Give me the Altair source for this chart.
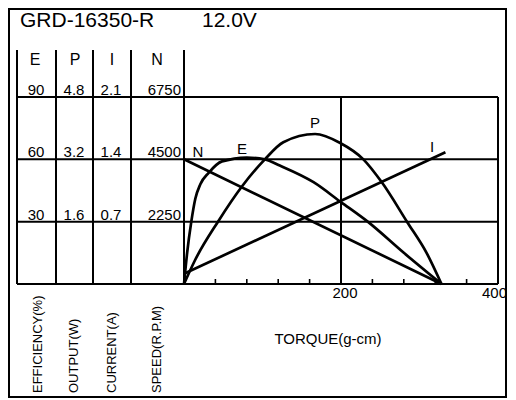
import altair as alt
import pandas as pd

# ---------------- data ----------------
# axis tick labels of the four left-hand scales (top row first)
eff_ticks = [90, 60, 30]          # EFFICIENCY (%)
out_ticks = [4.8, 3.2, 1.6]       # OUTPUT (W)
cur_ticks = [2.1, 1.4, 0.7]       # CURRENT (A)
spd_ticks = [6750, 4500, 2250]    # SPEED (R.P.M)
torque_labels = [200, 400]
torque_minor = [40, 80, 120, 160, 240, 280, 320, 360]

# speed curve N
n_torque = [0, 328]
n_rpm = [4500, 0]
# current curve I
i_torque = [0, 333]
i_amp = [0.115, 1.48]
# efficiency curve E
e_torque = [0, 4, 9.3, 14.4, 20.8, 31.4, 48.4, 80, 103, 122, 165, 200, 234, 280, 328]
e_pct = [0, 15, 30, 41, 48, 53.5, 59, 60.8, 60, 57, 49, 39.4, 30, 15, 0]
# output curve P
p_torque = [0, 14, 43.3, 74, 103, 126.5, 167, 199, 228.5, 252, 284, 309, 328]
p_watt = [0, 0.61, 1.6, 2.51, 3.2, 3.64, 3.85, 3.62, 3.2, 2.61, 1.6, 0.8, 0]

curve_names = ["N", "E", "P", "I"]
label_torque = [17.8, 73.9, 166.9, 316]
label_value = [63.5, 65, 77.5, 65.9]

title_model = "GRD-16350-R"
title_volt = "12.0V"
headers = ["E", "P", "I", "N"]
side_titles = ["EFFICIENCY(%)", "OUTPUT(W)", "CURRENT(A)", "SPEED(R.P.M)"]
x_title = "TORQUE(g-cm)"

# ---------------- layout (pixels, relative to plot area) ----------------
W, H = 314, 187
TOP_Y = -47
COL_LINES = [-167, -128, -91, -53]
HEAD_X = [-149, -109, -72, -27]
TICK_X = [-148, -110, -73, -3]
SIDE_X = [-146.5, -110, -72, -27]
FONT = "Liberation Sans"
LW = 2
CW = 2.7

top_val = eff_ticks[0]
scale_f = {
    "E": top_val / eff_ticks[0],
    "P": top_val / out_ticks[0],
    "I": top_val / cur_ticks[0],
    "N": top_val / spd_ticks[0],
}

rows = []
for name, ts, vs in [("N", n_torque, n_rpm), ("I", i_torque, i_amp),
                     ("E", e_torque, e_pct), ("P", p_torque, p_watt)]:
    for t, v in zip(ts, vs):
        rows.append({"series": name, "t": t, "v": v * scale_f[name]})
curves = pd.DataFrame(rows)

xs = alt.Scale(domain=[0, 400])
ys = alt.Scale(domain=[0, 90])
X = lambda f: alt.X(f, type="quantitative", scale=xs, axis=None)
Y = lambda f: alt.Y(f, type="quantitative", scale=ys, axis=None)

one = pd.DataFrame({"a": [0]})

frame = alt.Chart(one).mark_rect(fillOpacity=0, stroke="black", strokeWidth=2).encode(
    x=alt.value(-175), x2=alt.value(322), y=alt.value(-88), y2=alt.value(300))

hlines = alt.Chart(pd.DataFrame({"v": eff_ticks + [0]})).mark_rule(
    color="black", strokeWidth=LW).encode(
    y=Y("v"), x=alt.value(COL_LINES[0]), x2=alt.value(W))

vlines_plot = alt.Chart(pd.DataFrame({"t": [0]})).mark_rule(
    color="black", strokeWidth=LW).encode(
    x=X("t"), y=alt.value(TOP_Y), y2=alt.value(H))

vlines_grid = alt.Chart(pd.DataFrame({"t": torque_labels})).mark_rule(
    color="black", strokeWidth=LW).encode(
    x=X("t"), y=alt.value(0), y2=alt.value(H))

col_layers = [
    alt.Chart(one).mark_rule(color="black", strokeWidth=LW).encode(
        x=alt.value(cx), y=alt.value(TOP_Y), y2=alt.value(H))
    for cx in COL_LINES
]

minor = alt.Chart(pd.DataFrame({"t": torque_minor})).mark_rule(
    color="black", strokeWidth=1.6).encode(
    x=X("t"), y=alt.value(H - 5), y2=alt.value(H))

tlabel_layers = [
    alt.Chart(pd.DataFrame({"t": [torque_labels[0]]})).mark_text(
        font=FONT, fontSize=15, baseline="alphabetic", color="black", dx=4).encode(
        x=X("t"), y=alt.value(H + 14), text=alt.Text("t:Q")),
    alt.Chart(pd.DataFrame({"t": [torque_labels[1]]})).mark_text(
        font=FONT, fontSize=15, align="right", baseline="alphabetic", color="black",
        dx=9).encode(
        x=X("t"), y=alt.value(H + 14), text=alt.Text("t:Q")),
]

curve_layer = alt.Chart(curves).mark_line(
    color="black", strokeWidth=CW, interpolate="monotone").encode(
    x=X("t"), y=Y("v"), detail="series:N")

clabels = alt.Chart(pd.DataFrame({"name": curve_names, "t": label_torque,
                                  "v": label_value})).mark_text(
    font=FONT, fontSize=15, baseline="middle", color="black").encode(
    x=X("t"), y=Y("v"), text="name:N")

tick_text_layers = []
for ticks, tx, al in [(eff_ticks, TICK_X[0], "center"), (out_ticks, TICK_X[1], "center"),
                      (cur_ticks, TICK_X[2], "center"), (spd_ticks, TICK_X[3], "right")]:
    df = pd.DataFrame({"v": eff_ticks, "lab": [str(k) for k in ticks]})
    tick_text_layers.append(
        alt.Chart(df).mark_text(font=FONT, fontSize=15, align=al, baseline="alphabetic",
                                dy=-2, color="black").encode(
            x=alt.value(tx), y=Y("v"), text="lab:N"))

head_layers = [
    alt.Chart(one).mark_text(font=FONT, fontSize=16, baseline="alphabetic",
                             color="black").encode(
        x=alt.value(hx), y=alt.value(-32), text=alt.value(h))
    for h, hx in zip(headers, HEAD_X)
]

side_layers = [
    alt.Chart(one).mark_text(font=FONT, fontSize=13, angle=270, align="left",
                             baseline="middle", color="black").encode(
        x=alt.value(sx), y=alt.value(296), text=alt.value(s))
    for s, sx in zip(side_titles, SIDE_X)
]

title_layers = [
    alt.Chart(one).mark_text(font=FONT, fontSize=21, align="left", baseline="alphabetic",
                             color="black").encode(
        x=alt.value(-164), y=alt.value(-70), text=alt.value(title_model)),
    alt.Chart(one).mark_text(font=FONT, fontSize=21, align="left", baseline="alphabetic",
                             color="black").encode(
        x=alt.value(18), y=alt.value(-70), text=alt.value(title_volt)),
]

xtitle = alt.Chart(one).mark_text(font=FONT, fontSize=15, baseline="alphabetic",
                                  color="black").encode(
    x=alt.value(144), y=alt.value(247), text=alt.value(x_title))

chart = alt.layer(
    frame, hlines, vlines_plot, vlines_grid, *col_layers, minor, *tlabel_layers,
    curve_layer, clabels, *tick_text_layers, *head_layers, *side_layers,
    *title_layers, xtitle
).properties(
    width=W, height=H,
    autosize=alt.AutoSizeParams(type="none"),
    padding={"left": 176, "top": 89, "right": 10, "bottom": 115},
    background="white",
).configure_view(strokeWidth=0)

chart.save("out.html", embed_options={"renderer": "svg", "actions": False})
